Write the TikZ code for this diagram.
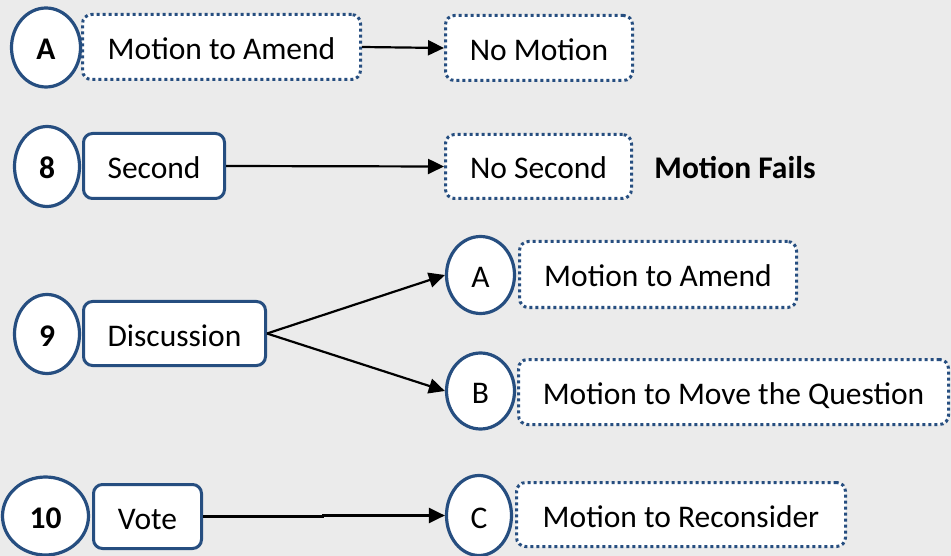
\documentclass[tikz,border=0pt]{standalone}
\usepackage{fontspec}
\setmainfont{Carlito}
\usetikzlibrary{arrows.meta,shapes.geometric}
\definecolor{bg}{RGB}{235,235,235}
\definecolor{navy}{RGB}{38,78,128}
\begin{document}
\begin{tikzpicture}[x=1pt,y=-1pt,
  every node/.style={font=\fontsize{31.5}{36}\selectfont, inner sep=0pt, text height=25pt, text depth=0pt},
  solidbox/.style={draw=navy, line width=3pt, fill=white, rounded corners=9pt},
  dotbox/.style={draw=navy, line width=3pt, fill=white, rounded corners=9pt, dash pattern=on 3pt off 3pt},
  numcirc/.style={ellipse, draw=navy, line width=3.2pt, fill=white},
  arr/.style={line width=2.2pt, -{Triangle[length=16pt,width=15pt]}}
]
\useasboundingbox (0,0) rectangle (951,556);
\fill[bg] (0,0) rectangle (951,556);

% Row 1
\node[dotbox, minimum width=278pt, minimum height=65pt] (bAmendA) at (221.5,47) {Motion to Amend};
\node[numcirc, minimum width=69pt, minimum height=79pt] (cA) at (46,47.5) {\bfseries A};
\node[dotbox, minimum width=187pt, minimum height=65pt] (bNoMotion) at (539,48) {No Motion};

% Row 2
\node[solidbox, minimum width=141pt, minimum height=65pt] (bSecond) at (154,166) {Second};
\node[numcirc, minimum width=65pt, minimum height=80pt] (c8) at (47,166.5) {\bfseries 8};
\node[dotbox, minimum width=186pt, minimum height=64pt] (bNoSecond) at (538.5,166.5) {No Second};
\node (fails) at (735,166) {\bfseries Motion Fails};

% Row 3
\node[solidbox, minimum width=182pt, minimum height=64pt] (bDisc) at (174.5,333.5) {Discussion};
\node[numcirc, minimum width=65pt, minimum height=79pt] (c9) at (47,334) {\bfseries 9};
\node[dotbox, minimum width=277pt, minimum height=66pt] (bAmendB) at (658,274.5) {Motion to Amend};
\node[numcirc, minimum width=68pt, minimum height=77pt] (cA2) at (480.5,275) {A};
\node[dotbox, minimum width=430pt, minimum height=65pt] (bMove) at (733.5,392) {Motion to Move the Question};
\node[numcirc, minimum width=68pt, minimum height=76pt] (cB) at (480.5,391) {B};

% Row 4
\node[solidbox, minimum width=108pt, minimum height=64pt] (bVote) at (147.5,516.5) {Vote};
\node[numcirc, minimum width=86pt, minimum height=78pt] (c10) at (45.5,516) {\bfseries 10};
\node[dotbox, minimum width=329pt, minimum height=64pt] (bRecon) at (681,514.5) {Motion to Reconsider};
\node[numcirc, minimum width=65pt, minimum height=80pt] (cC) at (479,515.5) {C};

% Connectors
\coordinate (j1) at (323,516.5);
\draw[arr] (bAmendA.east) -- (bNoMotion.west);
\draw[arr] (bSecond.east) -- (bNoSecond.west);
\draw[arr] (bDisc.east) -- (cA2.west);
\draw[arr] (bDisc.east) -- (cB.west);
\draw[arr] (bVote.east) -- (j1) -- (j1 |- cC.west) -- (cC.west);
\end{tikzpicture}
\end{document}
